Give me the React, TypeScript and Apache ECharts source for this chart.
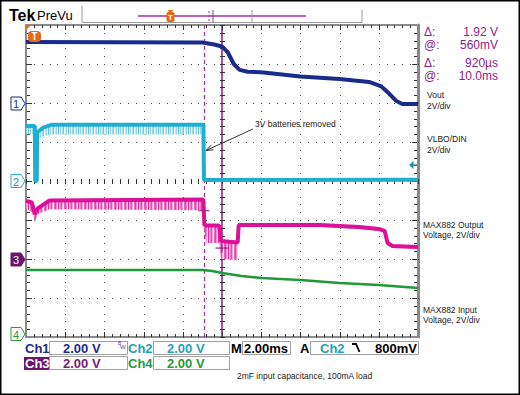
import React, { useEffect, useRef } from 'react';
import * as echarts from 'echarts';

// ---- scope settings ----
const VOLTS_PER_DIV = 2;
const TIME_MIN = 0;
const TIME_MAX = 20; // ms (2.00 ms/div, 10 div)
const TIME_DIV = 2;
const DIV_MIN = -4;
const DIV_MAX = 4;
const MINOR_PER_DIV = 5;
const GROUND_DIV = { ch1: 2, ch2: 0, ch3: -2, ch4: -4 };

// ---- Ch1: Vout (V) ----
const ch1Time = [0, 9.0, 9.6, 10.0, 10.3, 10.6, 10.9, 11.3, 12, 14, 16, 17.5, 18.1, 18.5, 18.9, 19.2, 20];
const ch1Volt = [3.13, 3.1, 3.0, 2.9, 2.6, 2.0, 1.7, 1.6, 1.58, 1.36, 1.23, 1.08, 0.87, 0.51, 0.1, -0.05, -0.05];

// ---- Ch2: VLBO/DIN (V): dense trace + lower noise envelope ----
const ch2Time = [0, 0.45, 0.47, 0.55, 0.57, 0.9, 1.3, 9.05, 9.08, 20];
const ch2Main = [2.82, 2.82, 0, 0, 2.5, 2.75, 2.88, 2.88, 0.05, 0.06];
const ch2Lo = [2.4, 2.4, -0.05, -0.05, 2.1, 2.3, 2.38, 2.38, 0.0, 0.0];

// ---- Ch3: MAX882 output (V): dense trace + lower noise envelope ----
const ch3Time = [0, 0.3, 0.45, 0.6, 1.2, 9.05, 9.1, 9.2, 9.85, 9.95, 10.8, 10.85, 15, 17, 18.0, 18.3, 18.45, 18.7, 20];
const ch3Main = [2.98, 2.9, 2.3, 2.6, 3.0, 3.05, 1.75, 1.72, 1.72, 0.92, 0.85, 1.74, 1.74, 1.64, 1.54, 1.44, 0.82, 0.67, 0.62];
const ch3Lo = [2.6, 2.4, 1.9, 2.3, 2.55, 2.5, 1.45, 0.82, 0.82, 0.0, -0.05, 1.64, 1.64, 1.54, 1.44, 1.34, 0.72, 0.57, 0.52];

// ---- Ch4: MAX882 input (V) ----
const ch4Time = [0, 9.0, 9.5, 10.0, 11, 12, 14, 16, 18, 20];
const ch4Volt = [3.44, 3.44, 3.38, 3.28, 3.13, 3.03, 2.92, 2.77, 2.67, 2.51];

// ---- cursors ----
const cursorTimes = [9.08, 10.0];
const ch3CursorVolts = [2.48, 0.56];

const readoutKeys = ['Δ:', '@:', 'Δ:', '@:'];
const readoutValues = ['1.92 V', '560mV', '920µs', '10.0ms'];

const C1 = '#1b2b8b';
const C2 = '#1eaed2';
const C3 = '#dc1199';
const C4 = '#20993a';
const PURPLE = '#8c1c8c';
const FONT = 'Liberation Sans, Arial, sans-serif';

const toDiv = (g: number, v: number) => g + v / VOLTS_PER_DIV;

function stripes(cols: string[]) {
  const c = document.createElement('canvas');
  c.width = cols.length;
  c.height = 1;
  const ctx = c.getContext('2d')!;
  cols.forEach((col, i) => {
    ctx.fillStyle = col;
    ctx.fillRect(i, 0, 1, 1);
  });
  return { image: c.toDataURL(), repeat: 'repeat' };
}

function band(time: number[], hi: number[], lo: number[], g: number, fill: any, z: number) {
  return {
    type: 'custom',
    data: [[time[0], g]],
    silent: true,
    clip: true,
    z,
    renderItem: (_p: any, api: any) => {
      const top = time.map((t, i) => api.coord([t, toDiv(g, hi[i])]));
      const bot = time.map((t, i) => api.coord([t, toDiv(g, lo[i])])).reverse();
      return { type: 'polygon', shape: { points: top.concat(bot) }, style: { fill } };
    },
  };
}

function line(time: number[], v: number[], g: number, color: string, width: number, z: number, extra: any = {}) {
  return {
    type: 'line',
    data: time.map((t, i) => [t, toDiv(g, v[i])]),
    showSymbol: false,
    symbol: 'none',
    silent: true,
    lineStyle: { color, width },
    z,
    ...extra,
  };
}

function txt(x: number, y: number, text: string, opts: any = {}) {
  return {
    type: 'text', x, y, silent: true,
    style: {
      text, fill: opts.fill || '#222', fontSize: opts.size || 8.5, fontFamily: opts.family || FONT,
      fontWeight: opts.weight || 'normal', align: opts.align || 'left', verticalAlign: 'middle',
      lineHeight: opts.lh || undefined,
    },
    z: 100,
  };
}

function marker(y: number, label: string, stroke: string, fill: string, textColor: string) {
  return [
    {
      type: 'polygon', silent: true, z: 100,
      shape: { points: [[11, y - 6.5], [21, y - 6.5], [25, y], [21, y + 6.5], [11, y + 6.5]] },
      style: { fill, stroke, lineWidth: 1 },
    },
    txt(16, y + 0.5, label, { fill: textColor, size: 11, align: 'center' }),
  ];
}

function box(x: number, y: number, w: number, h: number) {
  return { type: 'rect', silent: true, z: 90, shape: { x, y, width: w, height: h }, style: { fill: 'none', stroke: '#a0a0a0', lineWidth: 1 } };
}

function staticGraphic() {
  const g: any[] = [
    { type: 'rect', silent: true, z: 100, shape: { x: 0.75, y: 0.75, width: 518.5, height: 393.5 }, style: { fill: 'none', stroke: '#000', lineWidth: 1.5 } },
    txt(9, 15, 'Tek', { fill: '#000', size: 16, weight: 'bold' }),
    txt(37, 15, 'PreVu', { fill: '#000', size: 13 }),
    { type: 'polyline', silent: true, z: 90, shape: { points: [[82, 6], [82, 22.5], [362, 22.5], [362, 10]] }, style: { stroke: '#9a9a9a', lineWidth: 1, fill: 'none' } },
    { type: 'line', silent: true, z: 90, shape: { x1: 138, y1: 16, x2: 306, y2: 16 }, style: { stroke: '#a030a0', lineWidth: 1.5 } },
    { type: 'line', silent: true, z: 90, shape: { x1: 209, y1: 11, x2: 209, y2: 22 }, style: { stroke: '#a030a0', lineWidth: 1, lineDash: [2, 2] } },
    { type: 'line', silent: true, z: 90, shape: { x1: 213, y1: 10, x2: 213, y2: 22 }, style: { stroke: '#a030a0', lineWidth: 1 } },
    { type: 'line', silent: true, z: 90, shape: { x1: 252, y1: 10, x2: 252, y2: 22 }, style: { stroke: '#9a9a9a', lineWidth: 1 } },
    { type: 'rect', silent: true, z: 95, shape: { x: 166.5, y: 12, width: 8, height: 10, r: 2 }, style: { fill: '#e8680f' } },
    { type: 'polygon', silent: true, z: 95, shape: { points: [[167.5, 10], [173.5, 10], [170.5, 13]] }, style: { fill: '#e8680f' } },
    txt(170.5, 17.5, 'T', { fill: '#fff', size: 8, weight: 'bold', align: 'center' }),
    { type: 'polygon', silent: true, z: 95, shape: { points: [[26, 25], [31, 25], [26, 30]] }, style: { fill: '#e8680f' } },
    { type: 'rect', silent: true, z: 95, shape: { x: 28, y: 31, width: 13, height: 11, r: 4 }, style: { fill: '#e8680f' } },
    txt(34.5, 36.8, 'T', { fill: '#fff', size: 10, weight: 'bold', align: 'center' }),
    { type: 'polygon', silent: true, z: 95, shape: { points: [[409, 165], [413.5, 161], [413.5, 169]] }, style: { fill: '#159aa8' } },
    { type: 'line', silent: true, z: 95, shape: { x1: 413, y1: 165, x2: 417, y2: 165 }, style: { stroke: '#159aa8', lineWidth: 1.2 } },
    ...marker(103.5, '1', C1, '#fff', C1),
    ...marker(181, '2', '#3aa8b8', '#fff', '#2a98a8'),
    ...marker(259.5, '3', '#6a146e', '#6a146e', '#fff'),
    ...marker(334, '4', '#2a9a3a', '#fff', '#2a9a3a'),
    txt(255, 124, '3V batteries removed', { fill: '#222', size: 8.5 }),
    { type: 'line', silent: true, z: 95, shape: { x1: 253, y1: 129, x2: 206, y2: 150.5 }, style: { stroke: '#333', lineWidth: 1 } },
    { type: 'polyline', silent: true, z: 95, shape: { points: [[213.4, 149.8], [206, 150.5], [211.2, 145.2]] }, style: { stroke: '#333', lineWidth: 1, fill: 'none' } },
    txt(427, 95, 'Vout'),
    txt(427, 106, '2V/div'),
    txt(427, 139, 'VLBO/DIN'),
    txt(427, 150, '2V/div'),
    txt(423, 225, 'MAX882 Output'),
    txt(423, 235, 'Voltage, 2V/div'),
    txt(423, 310, 'MAX882 Input'),
    txt(423, 320, 'Voltage, 2V/div'),
    txt(25, 348, 'Ch1', { fill: C1, size: 13, weight: 'bold' }),
    box(49.5, 341.5, 78, 13),
    txt(63, 348, '2.00 V', { fill: C1, size: 13, weight: 'bold' }),
    txt(118, 342.5, 'B', { fill: '#5a3a9a', size: 5 }),
    txt(120, 347, 'W', { fill: '#5a3a9a', size: 6 }),
    txt(128, 348, 'Ch2', { fill: '#2a9fb3', size: 13, weight: 'bold' }),
    box(153.5, 341.5, 76, 13),
    txt(167, 348, '2.00 V', { fill: '#2a9fb3', size: 13, weight: 'bold' }),
    txt(231, 348, 'M', { fill: '#000', size: 13, weight: 'bold' }),
    box(242.5, 341.5, 48, 13),
    txt(244, 348, '2.00ms', { fill: '#000', size: 13, weight: 'bold' }),
    txt(300, 348, 'A', { fill: '#000', size: 13, weight: 'bold' }),
    box(310.5, 341.5, 108, 13),
    txt(320, 348, 'Ch2', { fill: '#2a9fb3', size: 13, weight: 'bold' }),
    { type: 'polyline', silent: true, z: 95, shape: { points: [[352, 344], [356, 344], [359.5, 352]] }, style: { stroke: '#000', lineWidth: 1.8, fill: 'none' } },
    txt(417, 348, '800mV', { fill: '#000', size: 13, weight: 'bold', align: 'right' }),
    { type: 'rect', silent: true, z: 90, shape: { x: 24, y: 357, width: 25, height: 13 }, style: { fill: '#6e1470' } },
    txt(25, 363.5, 'Ch3', { fill: '#fff', size: 13, weight: 'bold' }),
    box(49.5, 356.5, 78, 13),
    txt(63, 363.5, '2.00 V', { fill: '#7a1a7a', size: 13, weight: 'bold' }),
    txt(128, 363.5, 'Ch4', { fill: '#2a9a3a', size: 13, weight: 'bold' }),
    box(153.5, 356.5, 76, 13),
    txt(167, 363.5, '2.00 V', { fill: '#2a9a3a', size: 13, weight: 'bold' }),
    txt(237, 376, '2mF input capacitance, 100mA load', { fill: '#222', size: 8.5 }),
  ];
  const rowY = [31.5, 44.5, 62.5, 75.5];
  readoutKeys.forEach((k, i) => {
    g.push(txt(424, rowY[i], k, { fill: PURPLE, size: 12, lh: 11 }));
    g.push(txt(498, rowY[i], readoutValues[i], { fill: PURPLE, size: 12, lh: 11, align: 'right' }));
  });
  return g;
}

// graticule built from the axes' pixel mapping: every dot/tick is a small filled rect
function graticule(P: (t: number, v: number) => number[]) {
  const out: any[] = [];
  const nX = (TIME_MAX - TIME_MIN) / TIME_DIV;
  const nY = DIV_MAX - DIV_MIN;
  const tMinor = TIME_DIV / MINOR_PER_DIV;
  const vMinor = 1 / MINOR_PER_DIV;
  const dot = '#4a4a4a';
  const tick = '#333333';
  const r = (x: number, y: number, w: number, h: number, fill: string) =>
    out.push({ type: 'rect', silent: true, z: 50, shape: { x, y, width: w, height: h }, style: { fill } });
  const [x0, y0] = P(TIME_MIN, DIV_MAX).map(Math.round);
  const [x1, y1] = P(TIME_MAX, DIV_MIN).map(Math.round);
  for (let i = 1; i < nX; i++) {
    const t = TIME_MIN + i * TIME_DIV;
    const centre = i * 2 === nX;
    for (let j = 0; j <= nY * MINOR_PER_DIV; j++) {
      const [px, py] = P(t, DIV_MIN + j * vMinor).map(Math.round);
      if (centre) r(px - 2, py, 5, 1, tick);
      else r(px, py, 1, 1, dot);
    }
  }
  for (let i = 1; i < nY; i++) {
    const v = DIV_MIN + i;
    const centre = i * 2 === nY;
    for (let j = 0; j <= nX * MINOR_PER_DIV; j++) {
      const [px, py] = P(TIME_MIN + j * tMinor, v).map(Math.round);
      if (centre) r(px, py - 2, 1, 5, tick);
      else r(px, py, 1, 1, dot);
    }
  }
  for (let j = 1; j < nX * MINOR_PER_DIV; j++) {
    const L = j % MINOR_PER_DIV === 0 ? 5 : 3;
    const px = Math.round(P(TIME_MIN + j * tMinor, 0)[0]);
    r(px, y0, 1, L, tick);
    r(px, y1 - L, 1, L, tick);
  }
  for (let j = 1; j < nY * MINOR_PER_DIV; j++) {
    const L = j % MINOR_PER_DIV === 0 ? 5 : 3;
    const py = Math.round(P(TIME_MIN, DIV_MIN + j * vMinor)[1]);
    r(x0 + 1, py, L, 1, tick);
    r(x1 - 1 - L, py, L, 1, tick);
  }
  return out;
}

function buildOption() {
  const cyanNoise = stripes(['#8fd6ea', '#ffffff', '#a6dfee', '#6cc9e2', '#ffffff', '#c2eaf4', '#8fd6ea', '#ffffff', '#5fc3de', '#d4f0f8']);
  const pinkNoise = stripes(['#ef7cc6', '#e650b3', '#f6a6d8', '#ffffff', '#ec68bf', '#e43fab', '#f28fcf', '#fbd0ea', '#e02ea3', '#f5b0dc']);

  const frame = { show: true, onZero: false, lineStyle: { color: '#8a8a8a', width: 2 } };
  const base = { axisLabel: { show: false }, splitLine: { show: false }, axisTick: { show: false } };

  return {
    animation: false,
    backgroundColor: '#fff',
    grid: { left: 26, top: 25, width: 392, height: 312, containLabel: false },
    xAxis: [
      { type: 'value', min: TIME_MIN, max: TIME_MAX, interval: TIME_DIV, position: 'bottom', axisLine: frame, ...base },
      { type: 'value', min: TIME_MIN, max: TIME_MAX, interval: TIME_DIV, position: 'top', axisLine: frame, ...base },
    ],
    yAxis: [
      { type: 'value', min: DIV_MIN, max: DIV_MAX, interval: 1, position: 'left', axisLine: frame, ...base },
      { type: 'value', min: DIV_MIN, max: DIV_MAX, interval: 1, position: 'right', axisLine: { ...frame, lineStyle: { color: '#8a8a8a', width: 3 } }, ...base },
    ],
    series: [
      line(ch4Time, ch4Volt, GROUND_DIV.ch4, C4, 2.5, 60),
      band(ch3Time, ch3Main, ch3Lo, GROUND_DIV.ch3, pinkNoise, 61),
      line(ch3Time, ch3Main, GROUND_DIV.ch3, C3, 4, 62),
      band(ch2Time, ch2Main, ch2Lo, GROUND_DIV.ch2, cyanNoise, 63),
      line(ch2Time, ch2Main, GROUND_DIV.ch2, C2, 4, 64),
      line(ch1Time, ch1Volt, GROUND_DIV.ch1, C1, 4, 65),
      {
        type: 'scatter', silent: true, z: 80, symbol: 'rect', itemStyle: { color: '#9a1f8f' },
        data: [
          { value: [cursorTimes[0], toDiv(GROUND_DIV.ch3, ch3CursorVolts[0])], symbolSize: [11, 1.5] },
          { value: [cursorTimes[1], toDiv(GROUND_DIV.ch3, ch3CursorVolts[1])], symbolSize: [13, 1.5] },
          { value: [cursorTimes[1], toDiv(GROUND_DIV.ch3, ch3CursorVolts[1])], symbolSize: [1.5, 9] },
        ],
        markLine: {
          silent: true, symbol: 'none', label: { show: false },
          data: [
            { xAxis: cursorTimes[0], lineStyle: { color: '#a030a0', width: 1.2, type: [4, 3] } },
            { xAxis: cursorTimes[1], lineStyle: { color: '#8a1a8a', width: 1.5, type: 'solid' } },
          ],
        },
      },
    ],
  };
}

export default function App() {
  const ref = useRef<HTMLDivElement>(null);
  useEffect(() => {
    const chart = echarts.init(ref.current!, null, { renderer: 'svg' });
    chart.setOption(buildOption());
    const P = (t: number, v: number) => chart.convertToPixel({ xAxisIndex: 0, yAxisIndex: 0 }, [t, v]) as number[];
    chart.setOption({ graphic: [...staticGraphic(), ...graticule(P)] });
    return () => chart.dispose();
  }, []);
  return (
    <div
      ref={ref}
      style={{ position: 'fixed', left: 0, top: 0, width: 520, height: 395, background: '#fff' }}
    />
  );
}
